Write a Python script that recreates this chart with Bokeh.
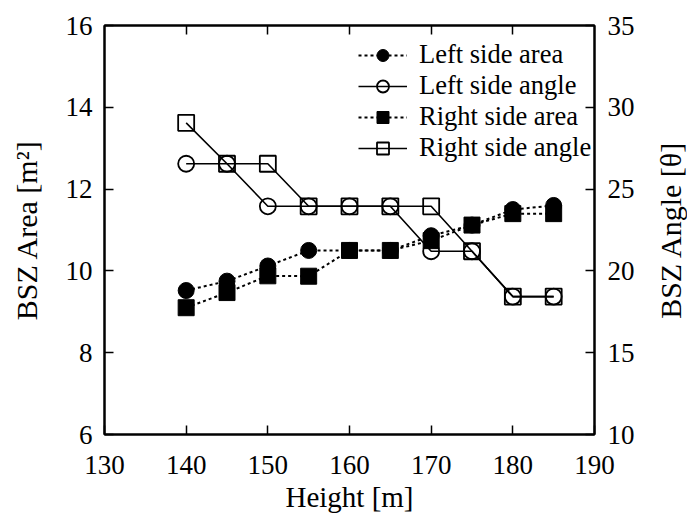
from bokeh.plotting import figure
from bokeh.layouts import row
from bokeh.models import (LinearAxis, Range1d, FixedTicker, Legend, LegendItem)
from bokeh.embed import file_html
from bokeh.resources import INLINE

heights = [140, 145, 150, 155, 160, 165, 170, 175, 180, 185]
left_area = [9.52, 9.75, 10.12, 10.5, 10.5, 10.5, 10.86, 11.12, 11.5, 11.6]
right_area = [9.1, 9.47, 9.88, 9.87, 10.5, 10.5, 10.74, 11.12, 11.4, 11.4]
left_angle = [26.55, 26.55, 23.95, 23.95, 23.95, 23.95, 21.2, 21.2, 18.43, 18.43]
right_angle = [29.05, 26.55, 26.55, 23.95, 23.95, 23.95, 23.95, 21.2, 18.43, 18.43]

x_ticks = [130, 140, 150, 160, 170, 180, 190]
top_ticks = [140, 150, 160, 170, 180]
left_ticks = [6, 8, 10, 12, 14, 16]
right_ticks = [10, 15, 20, 25, 30, 35]

FONT = "Liberation Serif"

p = figure(width=645, height=515, output_backend="svg", toolbar_location=None,
           x_range=Range1d(130, 190), y_range=Range1d(6, 16),
           min_border_left=104, min_border_right=51, min_border_top=25,
           min_border_bottom=81)
p.extra_y_ranges = {"angle": Range1d(10, 35)}
p.xgrid.visible = False
p.ygrid.visible = False
p.outline_line_color = "black"
p.outline_line_width = 2
p.background_fill_color = "white"
p.border_fill_color = "white"


def style_axis(ax, ticks, label_size="27px"):
    ax.ticker = FixedTicker(ticks=ticks)
    ax.major_tick_in = 9
    ax.major_tick_out = 0
    ax.minor_tick_in = 0
    ax.minor_tick_out = 0
    ax.major_tick_line_width = 1.5
    ax.major_tick_line_color = "black"
    ax.axis_line_width = 2
    ax.axis_line_color = "black"
    ax.major_label_text_font = FONT
    ax.major_label_text_font_size = label_size
    ax.major_label_text_color = "black"
    ax.axis_label_text_font = FONT
    ax.axis_label_text_font_size = "29px"
    ax.axis_label_text_font_style = "normal"
    ax.axis_label_text_color = "black"


xa = p.xaxis[0]
style_axis(xa, x_ticks)
xa.axis_label = "Height [m]"
xa.major_label_standoff = 21
xa.axis_label_standoff = 4

ya = p.yaxis[0]
style_axis(ya, left_ticks)
ya.axis_label = "BSZ Area [m²]"
ya.axis_label_text_font_size = "30px"
ya.major_label_standoff = 12
ya.axis_label_standoff = 20

ra = LinearAxis(y_range_name="angle")
style_axis(ra, right_ticks)
ra.major_label_standoff = 13
p.add_layout(ra, "right")

ta = LinearAxis()
style_axis(ta, top_ticks, label_size="10px")
ta.major_label_text_color = None
ta.major_label_standoff = 0
p.add_layout(ta, "above")

DOT = "3 3"

# angle series (drawn first, underneath)
la_line = p.line(heights, left_angle, y_range_name="angle", line_color="black", line_width=1.6)
la_pts = p.scatter(heights, left_angle, y_range_name="angle", marker="circle", size=16,
                   fill_alpha=0, line_color="black", line_width=1.8)
ra_line = p.line(heights, right_angle, y_range_name="angle", line_color="black", line_width=1.6)
ra_pts = p.scatter(heights, right_angle, y_range_name="angle", marker="square", size=16,
                   fill_alpha=0, line_color="black", line_width=1.8)

# area series
lar_line = p.line(heights, left_area, line_color="black", line_width=2, line_dash=DOT)
lar_pts = p.scatter(heights, left_area, marker="circle", size=16,
                    fill_color="black", line_color="black")
rar_line = p.line(heights, right_area, line_color="black", line_width=2, line_dash=DOT)
rar_pts = p.scatter(heights, right_area, marker="square", size=16,
                    fill_color="black", line_color="black")

legend = Legend(items=[
    LegendItem(label="Left side area", renderers=[lar_line, lar_pts]),
    LegendItem(label="Left side angle", renderers=[la_line, la_pts]),
    LegendItem(label="Right side area", renderers=[rar_line, rar_pts]),
    LegendItem(label="Right side angle", renderers=[ra_line, ra_pts]),
])
legend.location = (254, 271)
legend.background_fill_alpha = 0
legend.border_line_color = None
legend.padding = 0
legend.margin = 0
legend.spacing = 0
legend.label_standoff = 12
legend.glyph_width = 49
legend.glyph_height = 30
legend.label_height = 30
legend.label_text_font = FONT
legend.label_text_font_size = "26.5px"
legend.label_text_color = "black"
p.add_layout(legend)

# narrow companion panel carrying the right-hand axis title (reads bottom-to-top)
p2 = figure(width=42, height=515, output_backend="svg", toolbar_location=None,
            x_range=Range1d(130, 190), y_range=Range1d(10, 35),
            x_axis_location=None, min_border_left=41, min_border_right=0,
            min_border_top=25, min_border_bottom=81)
p2.xgrid.visible = False
p2.ygrid.visible = False
p2.outline_line_color = None
p2.background_fill_color = "white"
p2.border_fill_color = "white"
a2 = p2.yaxis[0]
a2.ticker = FixedTicker(ticks=[])
a2.axis_line_color = None
a2.major_tick_in = 0
a2.major_tick_out = 0
a2.minor_tick_in = 0
a2.minor_tick_out = 0
a2.major_label_standoff = 0
a2.axis_label = "BSZ Angle [θ]"
a2.axis_label_standoff = 0
a2.axis_label_text_font = FONT
a2.axis_label_text_font_size = "30px"
a2.axis_label_text_font_style = "normal"
a2.axis_label_text_color = "black"

layout = row(p, p2, spacing=0)
open("out.html", "w").write(file_html(layout, INLINE))
